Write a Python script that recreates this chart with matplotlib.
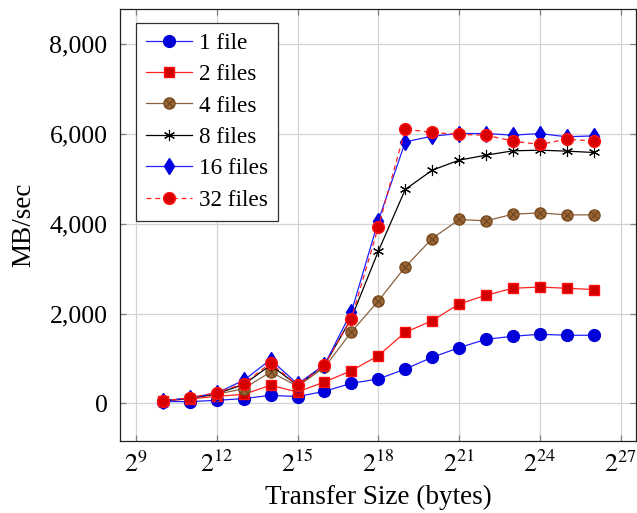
import math
import matplotlib
matplotlib.use("Agg")
import matplotlib.pyplot as plt
from matplotlib.legend_handler import HandlerTuple
from matplotlib.ticker import FixedLocator, FuncFormatter

plt.rcParams['font.family'] = ['Liberation Serif', 'DejaVu Serif']
plt.rcParams['mathtext.fontset'] = 'stix'

exponents = list(range(10, 27))
sizes = [2 ** e for e in exponents]

one_file = [40, 37, 67, 104, 178, 150, 267, 446, 541, 764, 1025, 1240, 1426, 1494, 1538, 1516, 1516]
two_files = [52, 97, 156, 200, 401, 253, 475, 727, 1061, 1582, 1841, 2213, 2408, 2564, 2590, 2564, 2535]
four_files = [52, 110, 200, 327, 698, 380, 800, 1590, 2281, 3040, 3672, 4096, 4066, 4214, 4243, 4199, 4199]
eight_files = [52, 115, 215, 420, 850, 400, 850, 1900, 3389, 4765, 5195, 5418, 5530, 5626, 5641, 5619, 5589]
sixteen_files = [52, 120, 230, 513, 973, 430, 860, 2036, 4066, 5826, 5953, 6012, 6012, 5975, 6012, 5938, 5960]
thirtytwo_files = [52, 126, 238, 438, 899, 401, 847, 1888, 3931, 6109, 6036, 5991, 5975, 5842, 5768, 5886, 5842]

labels = ['1 file', '2 files', '4 files', '8 files', '16 files', '32 files']
x_tick_exps = [9, 12, 15, 18, 21, 24, 27]
y_ticks = [0, 2000, 4000, 6000, 8000]

fig = plt.figure(figsize=(6.37, 5.13), dpi=100)
ax = fig.add_axes([120 / 637, 1 - 441 / 513, (636 - 120) / 637, (441 - 9.3) / 513])

ms = 8.5
h1, = ax.plot(sizes, one_file, color='#2020ff', lw=0.9, marker='o', ms=ms,
              mfc='#0000d8', mec='#0000d8', zorder=3)
h2, = ax.plot(sizes, two_files, color='#ff2020', lw=0.9, marker='s', ms=ms - 0.7,
              mfc='#d00000', mec='#ff1010', zorder=4)
h3, = ax.plot(sizes, four_files, color='#8a6240', lw=0.9, marker='o', ms=ms - 0.5,
              mfc='#9a6534', mec='#7a4c22', zorder=5)
h3x, = ax.plot(sizes, four_files, ls='none', marker='x', ms=(ms - 0.5) * 0.68,
               mec='#6b4420', mew=0.8, zorder=5.1)
h4, = ax.plot(sizes, eight_files, color='black', lw=0.9, marker=(6, 2, 0), ms=8,
              mec='black', mew=0.8, zorder=6)
h5, = ax.plot(sizes, sixteen_files, color='#2020ff', lw=0.9, marker='d', ms=8,
              mfc='#0000e0', mec='#0000e0', zorder=7)
h6, = ax.plot(sizes, thirtytwo_files, color='#ff2020', lw=0.9, ls=(0, (4, 3)), marker='o', ms=ms,
              mfc='#d80000', mec='#ff1010', zorder=8)

ax.set_xscale('log', base=2)
ax.set_xlim(2 ** 8.406, 2 ** 27.57)
ax.set_ylim(-840, 8780)
ax.xaxis.set_major_locator(FixedLocator([2 ** e for e in x_tick_exps]))
ax.xaxis.set_minor_locator(FixedLocator([]))
ax.xaxis.set_major_formatter(FuncFormatter(lambda v, p: r'$2^{%d}$' % round(math.log2(v))))
ax.set_yticks(y_ticks)
ax.yaxis.set_major_formatter(FuncFormatter(lambda v, p: f'{int(v):,}'))

ax.grid(True, color='#d4d4d4', lw=0.9, zorder=0)
ax.set_axisbelow(True)
ax.tick_params(axis='both', which='major', direction='in', length=4, width=0.9, color='#808080',
               top=True, right=True, labelsize=18.6)
ax.tick_params(axis='y', pad=9)
ax.tick_params(axis='x', pad=7)
for s in ax.spines.values():
    s.set_linewidth(0.9)
    s.set_color('#202020')

ax.set_xlabel('Transfer Size (bytes)', fontsize=19.5)
ax.set_ylabel('MB/sec', fontsize=19.5)
ax.xaxis.set_label_coords(0.5, (441 - 485) / 431.7)
ax.yaxis.set_label_coords((36 - 120) / 516, 0.5)

leg = ax.legend([h1, h2, (h3, h3x), h4, h5, h6], labels,
                handler_map={tuple: HandlerTuple(ndivide=1)},
                loc='upper left', bbox_to_anchor=(16 / 516, 1 - 13.4 / 431.7),
                borderaxespad=0, fontsize=16.7, frameon=True, fancybox=False,
                handlelength=2.0, handletextpad=0.3, labelspacing=0.44, borderpad=0.42)
leg.get_frame().set_edgecolor('#303030')
leg.get_frame().set_linewidth(0.9)
leg.get_frame().set_alpha(1)

fig.savefig('out.png', dpi=100)
